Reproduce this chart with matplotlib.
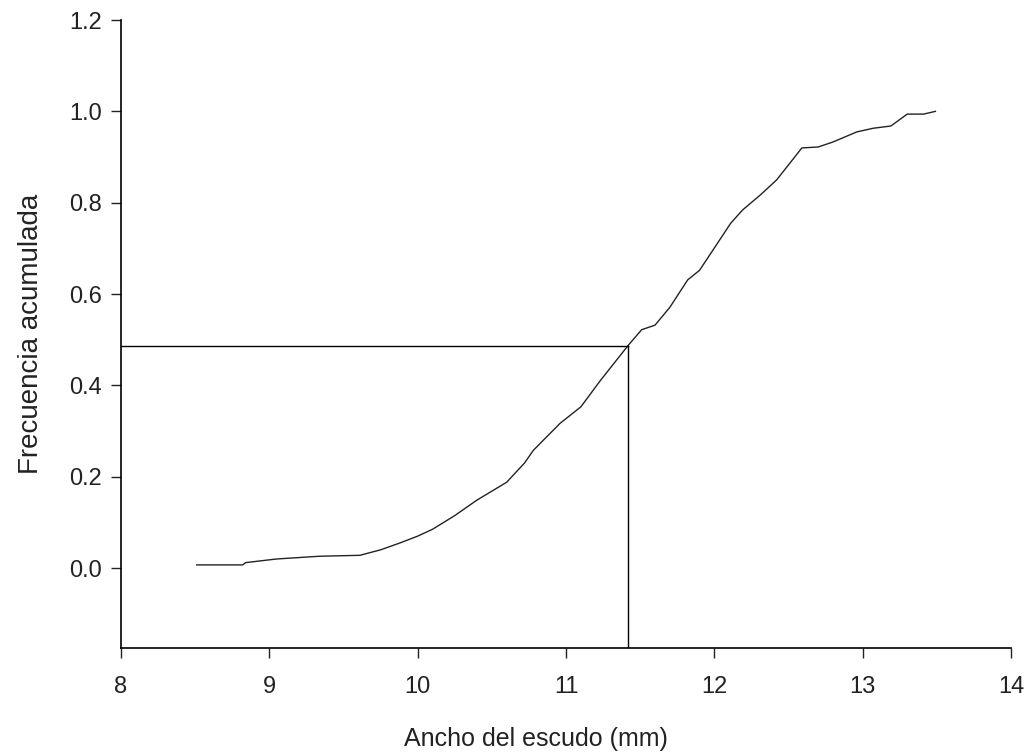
import matplotlib
matplotlib.use('Agg')
import matplotlib.pyplot as plt

plt.rcParams['font.family'] = ['Liberation Sans', 'DejaVu Sans']

# curva de frecuencia acumulada del ancho del escudo
ancho = [8.51, 8.82, 8.84, 9.05, 9.34, 9.61, 9.75, 9.88, 10.00, 10.10, 10.25,
         10.40, 10.60, 10.72, 10.78, 10.96, 11.10, 11.23, 11.42, 11.51, 11.60,
         11.70, 11.82, 11.90, 11.99, 12.11, 12.19, 12.31, 12.42, 12.51, 12.59,
         12.70, 12.80, 12.96, 13.07, 13.19, 13.30, 13.41, 13.49]
frec = [0.007, 0.007, 0.012, 0.020, 0.026, 0.028, 0.040, 0.055, 0.070, 0.085, 0.115,
        0.149, 0.188, 0.230, 0.258, 0.317, 0.353, 0.410, 0.488, 0.522, 0.532,
        0.571, 0.631, 0.652, 0.696, 0.755, 0.784, 0.817, 0.850, 0.887, 0.920,
        0.922, 0.933, 0.955, 0.963, 0.968, 0.994, 0.994, 1.000]

# mediana marcada en el grafico
mediana_x = 11.42
mediana_y = 0.486

fig = plt.figure(figsize=(10.28, 7.53), dpi=100)
ax = fig.add_axes([0.1177, 0.1394, 0.8658, 0.834])

ax.plot(ancho, frec, color='#222222', lw=1.0)
ax.plot([8, mediana_x], [mediana_y, mediana_y], color='black', lw=1.0)
ax.plot([mediana_x, mediana_x], [-0.175, mediana_y], color='black', lw=1.0)

ax.set_xlim(8, 14)
ax.set_ylim(-0.175, 1.2)
ax.set_xticks([8, 9, 10, 11, 12, 13, 14])
ax.set_yticks([0.0, 0.2, 0.4, 0.6, 0.8, 1.0, 1.2])
ax.set_yticklabels(['0.0', '0.2', '0.4', '0.6', '0.8', '1.0', '1.2'])

for s in ['top', 'right']:
    ax.spines[s].set_visible(False)
ax.spines['left'].set_linewidth(1.2)
ax.spines['bottom'].set_linewidth(1.2)
ax.tick_params(direction='out', length=7, width=1.0, labelsize=17, colors='#222222')
ax.tick_params(axis='x', pad=13)
ax.tick_params(axis='y', pad=7)

ax.set_xlabel('Ancho del escudo (mm)', fontsize=18, color='#222222')
ax.xaxis.set_label_coords(0.466, -0.125)
ax.set_ylabel('Frecuencia acumulada', fontsize=20, labelpad=18, color='#222222')

fig.savefig('out.png', dpi=100)
